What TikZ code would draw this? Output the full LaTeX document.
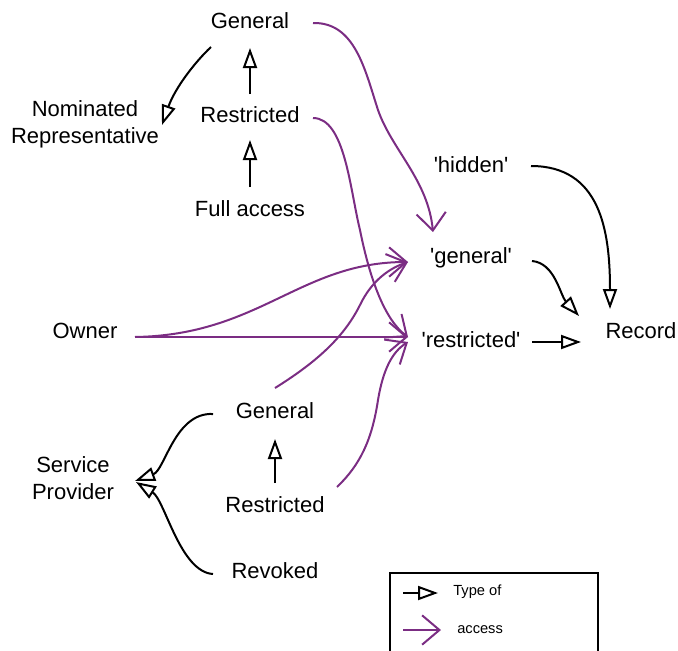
\documentclass[tikz,border=0pt]{standalone}
\usepackage{fontspec}
\setmainfont{Liberation Sans}
\usetikzlibrary{arrows.meta,calc}
\definecolor{accpurple}{RGB}{123,45,131}
\newcommand{\sq}{\textquotesingle}
\begin{document}
\begin{tikzpicture}[x=0.75pt,y=-0.75pt,
  lbl/.style={font=\fontsize{16.5}{20}\selectfont, inner sep=0pt, align=center},
  leglbl/.style={font=\fontsize{11}{13}\selectfont, inner sep=0pt, anchor=west},
  typeof/.style={draw=black, line width=1.5pt, -{Triangle[open, length=15pt, width=10.5pt]}},
  accessarr/.style={draw=accpurple, line width=1.5pt, -{Straight Barb[length=13pt, width=22pt]}},
]
\useasboundingbox (0,0) rectangle (678,650);

% nodes
\node[lbl] (gt) at (250,21) {General};
\node[lbl] (rt) at (250,115) {Restricted};
\node[lbl] (fa) at (250,209) {Full access};
\node[lbl] (nr) at (85,124) {Nominated\\Representative};
\node[lbl] (hid) at (471,165) {\sq hidden\sq};
\node[lbl] (gen) at (471,258) {\sq general\sq};
\node[lbl] (res) at (471,340) {\sq restricted\sq};
\node[lbl] (rec) at (641,331) {Record};
\node[lbl] (own) at (85,331) {Owner};
\node[lbl] (gb) at (275,411) {General};
\node[lbl] (rb) at (275,505) {Restricted};
\node[lbl] (rv) at (275,571) {Revoked};
\node[lbl] (sp) at (73,478) {Service\\Provider};

% black "type of" arrows
\draw[typeof] ($(rt)+(0,-21)$) -- ($(gt)+(0,27)$);
\draw[typeof] ($(fa)+(0,-22)$) -- ($(rt)+(0,25)$);
\draw[typeof] ($(gt)+(-39,26)$) .. controls (195,62) and (175,88) .. ($(nr)+(77,1)$);
\draw[typeof] ($(hid)+(60,1)$) .. controls (600,166) and (610,230) .. ($(rec)+(-31,-22)$);
\draw[typeof] ($(gen)+(61,3)$) .. controls (555,263) and (560,295) .. ($(rec)+(-62,-15)$);
\draw[typeof] ($(res)+(61,2)$) -- ($(rec)+(-60,11)$);
\draw[typeof] ($(gb)+(-62,3)$) .. controls (175,412) and (165,470) .. ($(sp)+(62,3)$);
\draw[typeof] ($(rv)+(-62,3)$) .. controls (180,572) and (165,500) .. ($(sp)+(63,4)$);
\draw[typeof] ($(rb)+(0,-22)$) -- ($(gb)+(0,28)$);

% purple "access" arrows
\draw[accessarr] ($(gt)+(63,2)$) .. controls (355,22) and (365,70) .. (378,110)
   .. controls (392,150) and (428,180) .. ($(gen)+(-38,-26)$);
\draw[accessarr] ($(rt)+(63,3)$) .. controls (345,118) and (350,190) .. (360,230)
   .. controls (370,280) and (385,320) .. ($(res)+(-63,-3)$);
\draw[accessarr] ($(own)+(50,6)$) .. controls (260,335) and (300,262) .. ($(gen)+(-63,4)$);
\draw[accessarr] ($(own)+(50,6)$) -- ($(res)+(-63,-3)$);
\draw[accessarr] ($(gb)+(0,-23)$) .. controls (320,360) and (345,335) .. (360,305)
   .. controls (372,280) and (390,268) .. ($(gen)+(-63,4)$);
\draw[accessarr] ($(rb)+(62,-18)$) .. controls (360,465) and (372,440) .. (378,400)
   .. controls (383,370) and (392,352) .. ($(res)+(-63,2)$);

% legend
\node[draw=black, line width=1.5pt, minimum width=208*0.75pt, minimum height=92*0.75pt, inner sep=0pt] (leg) at (494,619) {};
\node[leglbl] (lt1) at (453,592) {Type of};
\node[leglbl] (lt2) at (457,630) {access};
\coordinate (l1s) at (403,593);
\coordinate (l2s) at (403,630);
\draw[typeof] (l1s) -- ($(lt1.west)+(-15,1)$);
\draw[accessarr] (l2s) -- ($(lt2.west)+(-16,0)$);
\end{tikzpicture}
\end{document}
